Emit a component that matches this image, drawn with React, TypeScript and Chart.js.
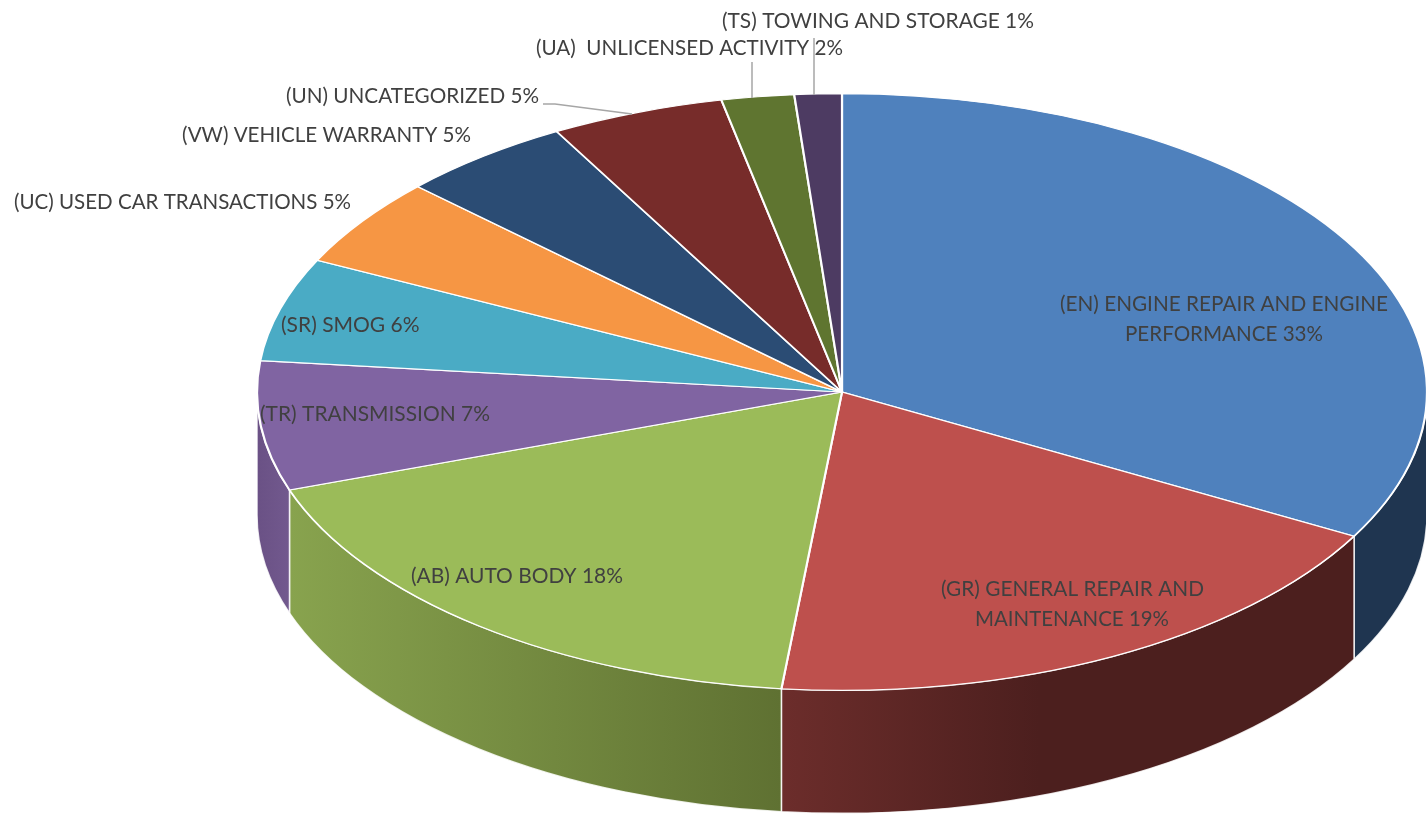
import React, { useEffect, useRef } from "react";
import { Chart, registerables } from "chart.js";

Chart.register(...registerables);

const categories = [
  "(EN) ENGINE REPAIR AND ENGINE PERFORMANCE",
  "(GR) GENERAL REPAIR AND MAINTENANCE",
  "(AB) AUTO BODY",
  "(TR) TRANSMISSION",
  "(SR) SMOG",
  "(UC) USED CAR TRANSACTIONS",
  "(VW) VEHICLE WARRANTY",
  "(UN) UNCATEGORIZED",
  "(UA)  UNLICENSED ACTIVITY",
  "(TS) TOWING AND STORAGE",
];
const shares = [33, 18.6, 18, 7, 5.6, 4.8, 4.8, 4.8, 2, 1.3];
const sliceColors = ["#4F81BD", "#BE504D", "#9BBB59", "#8064A2", "#4AABC5", "#F69644", "#2B4C74", "#772C2A", "#5F7530", "#4D3B62"];
const labelLines = [
  ["(EN) ENGINE REPAIR AND ENGINE", "PERFORMANCE 33%"],
  ["(GR) GENERAL REPAIR AND", "MAINTENANCE 19%"],
  ["(AB) AUTO BODY 18%"],
  ["(TR) TRANSMISSION 7%"],
  ["(SR) SMOG 6%"],
  ["(UC) USED CAR TRANSACTIONS 5%"],
  ["(VW) VEHICLE WARRANTY 5%"],
  ["(UN) UNCATEGORIZED 5%"],
  ["(UA)  UNLICENSED ACTIVITY 2%"],
  ["(TS) TOWING AND STORAGE 1%"],
];
// layout: [left, baseline, width] per text line
const labelBoxes: number[][][] = [
  [[1060, 311, 328], [1125, 341, 198]],
  [[941, 596, 263], [975, 626, 194]],
  [[411, 583, 212]],
  [[260, 421, 230]],
  [[281, 332, 139]],
  [[14, 209, 337]],
  [[182, 142, 289]],
  [[286, 103, 253]],
  [[536, 55, 307]],
  [[722, 28, 312]],
];
const leaders: number[][][] = [
  [[543, 104], [555, 104], [632, 114]],
  [[752, 62], [752, 98]],
  [[814, 38], [814, 95]],
];
const wallGradients: Record<number, string[]> = {
  0: ["#1F3550", "#1F3550"],
  1: ["#6C2D2B", "#4C1F1E", "#4C1F1E"],
  2: ["#88A34E", "#5F7132"],
  3: ["#6A5185", "#72598E"],
};

const CX = 842;
const CY = 392;
const RADIUS = 585;
const SQUASH = 0.51;
const DEPTH = 123;

const pie3d = {
  id: "pie3d",
  beforeDatasetsDraw(chart: any) {
    const ctx = chart.ctx;
    const arcs = chart.getDatasetMeta(0).data;
    ctx.save();
    arcs.forEach((arc: any, i: number) => {
      const a0 = Math.max(arc.startAngle, 0);
      const a1 = Math.min(arc.endAngle, Math.PI);
      if (a1 <= a0 || !wallGradients[i]) return;
      const r = arc.outerRadius;
      const ry = r * SQUASH;
      const xA = arc.x + r * Math.cos(a0);
      const xB = arc.x + r * Math.cos(a1);
      const g = ctx.createLinearGradient(Math.min(xA, xB), 0, Math.max(xA, xB), 0);
      const stops = wallGradients[i];
      if (i === 1) {
        g.addColorStop(0, stops[0]);
        g.addColorStop(0.45, stops[1]);
        g.addColorStop(1, stops[2]);
      } else if (i === 3) {
        g.addColorStop(0, stops[0]);
        g.addColorStop(1, stops[1]);
      } else {
        g.addColorStop(0, stops[0]);
        g.addColorStop(1, stops[1]);
      }
      ctx.beginPath();
      ctx.ellipse(arc.x, arc.y, r, ry, 0, a0, a1);
      ctx.lineTo(arc.x + r * Math.cos(a1), arc.y + ry * Math.sin(a1) + DEPTH);
      ctx.ellipse(arc.x, arc.y + DEPTH, r, ry, 0, a1, a0, true);
      ctx.closePath();
      ctx.fillStyle = g;
      ctx.fill();
      ctx.strokeStyle = "rgba(255,255,255,0.85)";
      ctx.lineWidth = 1.5;
      ctx.stroke();
    });
    ctx.restore();
    ctx.save();
    ctx.translate(CX, CY);
    ctx.scale(1, SQUASH);
    ctx.translate(-CX, -CY);
  },
  afterDatasetsDraw(chart: any) {
    const ctx = chart.ctx;
    ctx.restore();
    ctx.save();
    ctx.strokeStyle = "#A6A6A6";
    ctx.lineWidth = 1.5;
    leaders.forEach((pts) => {
      ctx.beginPath();
      pts.forEach(([x, y], k) => (k ? ctx.lineTo(x, y) : ctx.moveTo(x, y)));
      ctx.stroke();
    });
    ctx.fillStyle = "#404040";
    ctx.font = "21px Lato";
    ctx.textAlign = "left";
    ctx.textBaseline = "alphabetic";
    labelLines.forEach((lines, i) => {
      lines.forEach((text, k) => {
        const [x, y, w] = labelBoxes[i][k];
        ctx.fillText(text, x, y, w);
      });
    });
    ctx.restore();
  },
};

export default function App() {
  const ref = useRef<HTMLCanvasElement>(null);
  useEffect(() => {
    const chart = new Chart(ref.current!, {
      type: "pie",
      data: {
        labels: categories,
        datasets: [
          {
            data: shares,
            backgroundColor: sliceColors,
            borderColor: "#FFFFFF",
            borderWidth: 2.2,
            borderJoinStyle: "round",
            radius: RADIUS,
            clip: false,
          } as any,
        ],
      },
      options: {
        animation: false,
        responsive: false,
        events: [],
        layout: { padding: { left: 258, bottom: 30 } },
        plugins: { legend: { display: false }, tooltip: { enabled: false } },
      },
      plugins: [pie3d],
    });
    return () => chart.destroy();
  }, []);
  return (
    <div style={{ position: "fixed", left: 0, top: 0, width: 1426, height: 814, background: "#fff", overflow: "hidden" }}>
      <canvas ref={ref} width={1426} height={814} style={{ display: "block" }} />
    </div>
  );
}
